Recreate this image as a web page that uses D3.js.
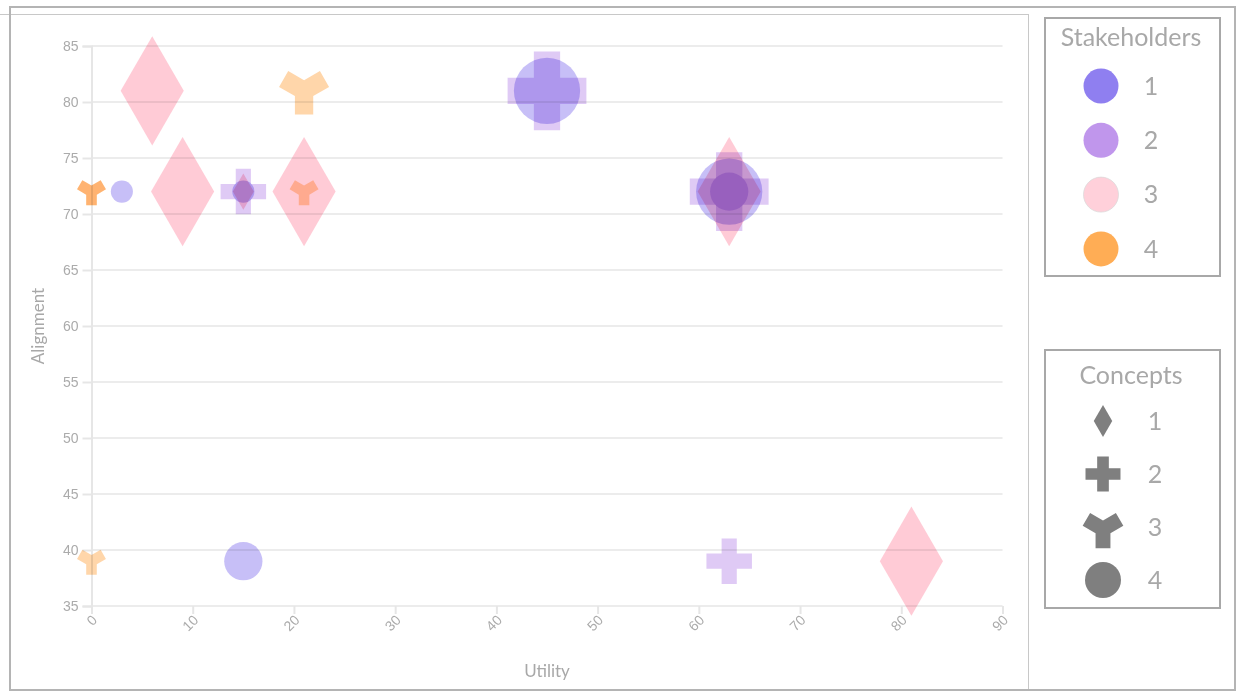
<!DOCTYPE html>
<html>
<head>
<meta charset="utf-8">
<script src="https://cdn.jsdelivr.net/npm/d3@7"></script>
<style>
  body { margin: 0; background: #fff; }
  svg { display: block; font-family: Lato, "Open Sans", sans-serif; }
  .point { mix-blend-mode: multiply; }
</style>
</head>
<body>
<div id="chart"></div>
<script>
// chart values
const stakeholderNames = ["1", "2", "3", "4"];
const conceptNames = ["1", "2", "3", "4"];
const xTicks = [0, 10, 20, 30, 40, 50, 60, 70, 80, 90];
const yTicks = [35, 40, 45, 50, 55, 60, 65, 70, 75, 80, 85];

// one entry per point
const utility     = [6, 9, 21, 63, 81, 15,  45, 63, 15, 63,  3, 15, 15, 45, 63,  63,  0, 0, 21, 0, 21];
const alignment   = [81, 72, 72, 72, 39, 72,  81, 72, 72, 39,  72, 72, 39, 81, 72,  72,  72, 72, 72, 39, 81];
const stakeholder = [3, 3, 3, 3, 3, 3,  2, 2, 2, 2,  1, 1, 1, 1, 1,  2,  4, 4, 4, 4, 4];
const concept     = [1, 1, 1, 1, 1, 1,  2, 2, 2, 2,  4, 4, 4, 4, 4,  4,  3, 3, 3, 3, 3];
const weight      = [9, 9, 9, 9, 9, 1,  9, 9, 3, 3,  1, 1, 3, 9, 9,  3,  1, 1, 1, 1, 3];

const pointColors = ["#8f7ff0", "#c096ec", "#ff98ad", "#ffad55"];
const legendColors = ["#8f7ff0", "#c096ec", "#ffd0da", "#ffad55"];

const W = 1238, H = 691;
const svg = d3.select("#chart").append("svg")
  .attr("width", W)
  .attr("height", H);

// frames
svg.append("line").attr("x1", 0).attr("x2", 1028).attr("y1", 14.5).attr("y2", 14.5)
  .attr("stroke", "#c8c8c8").attr("stroke-width", 1);
svg.append("line").attr("x1", 1028.5).attr("x2", 1028.5).attr("y1", 14).attr("y2", 690)
  .attr("stroke", "#c8c8c8").attr("stroke-width", 1);
svg.append("rect").attr("x", 10).attr("y", 7).attr("width", 1225).attr("height", 683)
  .attr("fill", "none").attr("stroke", "#b4b4b4").attr("stroke-width", 2);

const x = d3.scaleLinear().domain([0, 90]).range([91.5, 1002.5]);
const y = d3.scaleLinear().domain([35, 85]).range([606, 46]);
const size = d3.scaleLinear().domain([0, 9]).range([0, 3450]);
const shapes = [d3.symbolDiamond, d3.symbolCross, d3.symbolWye, d3.symbolCircle];

// gridlines
svg.append("g").selectAll("line").data(yTicks).join("line")
  .attr("x1", x(0)).attr("x2", x(90))
  .attr("y1", d => y(d)).attr("y2", d => y(d))
  .attr("stroke", "#ececec").attr("stroke-width", 2);

// y axis
const yAxis = svg.append("g")
  .attr("transform", `translate(${x(0)},0)`)
  .call(d3.axisLeft(y).tickValues(yTicks).tickSize(9).tickPadding(4));
yAxis.select(".domain").attr("stroke", "#e6e6e6").attr("stroke-width", 2);
yAxis.selectAll(".tick line").attr("stroke", "#e6e6e6").attr("stroke-width", 2);
yAxis.selectAll(".tick text").attr("fill", "#ababab").style("font-size", "14px");

// x axis
const xAxis = svg.append("g")
  .attr("transform", `translate(0,${y(35)})`)
  .call(d3.axisBottom(x).tickValues(xTicks).tickSize(8));
xAxis.select(".domain").remove();
xAxis.selectAll(".tick line").attr("stroke", "#e6e6e6").attr("stroke-width", 2);
xAxis.selectAll(".tick text")
  .attr("fill", "#ababab").style("font-size", "14px")
  .attr("text-anchor", "end")
  .attr("dy", 0).attr("y", 15).attr("x", 6)
  .attr("transform", "rotate(-45, 6, 15)");

// axis titles
svg.append("text").attr("x", x(45)).attr("y", 677)
  .attr("text-anchor", "middle").attr("fill", "#a8a8a8").style("font-size", "17px")
  .text("Utility");
svg.append("text").attr("transform", `translate(44,${y(60)}) rotate(-90)`)
  .attr("text-anchor", "middle").attr("fill", "#a8a8a8").style("font-size", "17px")
  .text("Alignment");

// points
svg.append("g").selectAll("path").data(d3.range(utility.length)).join("path")
  .attr("class", "point")
  .attr("transform", i => `translate(${x(utility[i])},${y(alignment[i])})`)
  .attr("d", i => d3.symbol(shapes[concept[i] - 1], size(weight[i]))())
  .attr("fill", i => pointColors[stakeholder[i] - 1])
  .attr("fill-opacity", 0.5);

// stakeholder legend
svg.append("rect").attr("x", 1045).attr("y", 18).attr("width", 175).attr("height", 258)
  .attr("fill", "none").attr("stroke", "#a8a8a8").attr("stroke-width", 2);
svg.append("text").attr("x", 1131).attr("y", 46).attr("text-anchor", "middle")
  .attr("fill", "#a8a8a8").style("font-size", "25px").text("Stakeholders");
const sl = svg.append("g").selectAll("g").data(stakeholderNames).join("g")
  .attr("transform", (d, i) => `translate(0,${86 + i * 54.3})`);
sl.append("circle").attr("cx", 1101).attr("r", 17.5)
  .attr("fill", (d, i) => legendColors[i])
  .attr("stroke", (d, i) => i === 2 ? "#d8d8d8" : "none").attr("stroke-width", 0.7);
sl.append("text").attr("x", 1151).attr("dy", "0.35em").attr("text-anchor", "middle")
  .attr("fill", "#a8a8a8").style("font-size", "25px").text(d => d);

// concept legend
const legendSizes = [295, 680, 760, 1018];
svg.append("rect").attr("x", 1045).attr("y", 350).attr("width", 175).attr("height", 258)
  .attr("fill", "none").attr("stroke", "#a8a8a8").attr("stroke-width", 2);
svg.append("text").attr("x", 1131).attr("y", 384).attr("text-anchor", "middle")
  .attr("fill", "#a8a8a8").style("font-size", "25px").text("Concepts");
const cl = svg.append("g").selectAll("g").data(conceptNames).join("g")
  .attr("transform", (d, i) => `translate(0,${421 + i * 53})`);
cl.append("path")
  .attr("transform", (d, i) => `translate(1103,${i === 2 ? 2 : 0})`)
  .attr("d", (d, i) => d3.symbol(shapes[i], legendSizes[i])())
  .attr("fill", "#7f7f7f");
cl.append("text").attr("x", 1155).attr("dy", "0.35em").attr("text-anchor", "middle")
  .attr("fill", "#a8a8a8").style("font-size", "25px").text(d => d);
</script>
</body>
</html>
